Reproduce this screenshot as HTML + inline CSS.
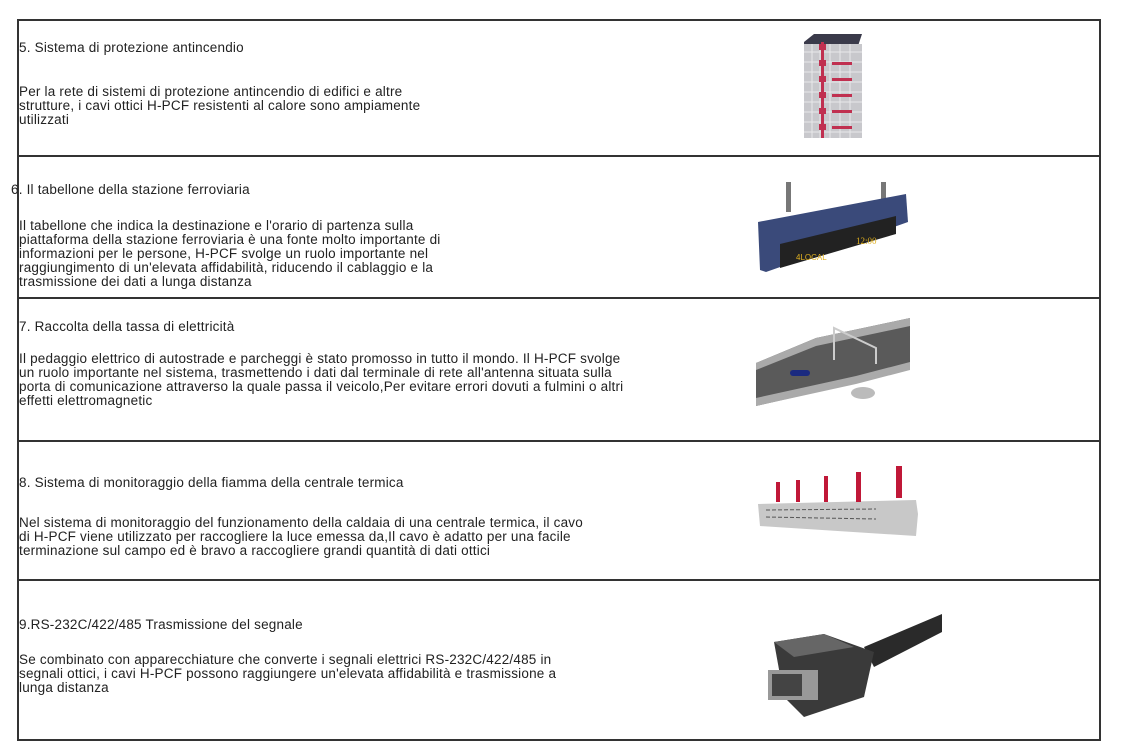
<!DOCTYPE html>
<html><head><meta charset="utf-8"><style>
body{margin:0;background:#fff;width:1124px;height:756px;position:relative;overflow:hidden;font-family:"Liberation Sans","Noto Sans CJK SC",sans-serif;color:#222;}
.h{position:absolute;left:18px;width:1083px;height:2px;background:#333;}
.v{position:absolute;top:19px;width:2px;height:722px;background:#333;}
.t{position:absolute;left:19px;font-size:13.5px;letter-spacing:0.2px;line-height:14px;white-space:nowrap;}
</style></head><body>
<div class="h" style="top:19px"></div>
<div class="h" style="top:155px"></div>
<div class="h" style="top:297px"></div>
<div class="h" style="top:440px"></div>
<div class="h" style="top:579px"></div>
<div class="h" style="top:739px"></div>
<div class="v" style="left:17px"></div>
<div class="v" style="left:1099px"></div>

<div class="t" style="top:41px">5. Sistema di protezione antincendio</div>
<div class="t" style="top:85px">Per la rete di sistemi di protezione antincendio di edifici e altre<br>strutture, i cavi ottici H-PCF resistenti al calore sono ampiamente<br>utilizzati</div>

<div class="t" style="top:183px;left:11px">6. Il tabellone della stazione ferroviaria</div>
<div class="t" style="top:219px">Il tabellone che indica la destinazione e l'orario di partenza sulla<br>piattaforma della stazione ferroviaria è una fonte molto importante di<br>informazioni per le persone, H-PCF svolge un ruolo importante nel<br>raggiungimento di un'elevata affidabilità, riducendo il cablaggio e la<br>trasmissione dei dati a lunga distanza</div>

<div class="t" style="top:320px">7. Raccolta della tassa di elettricità</div>
<div class="t" style="top:352px">Il pedaggio elettrico di autostrade e parcheggi è stato promosso in tutto il mondo. Il H-PCF svolge<br>un ruolo importante nel sistema, trasmettendo i dati dal terminale di rete all'antenna situata sulla<br>porta di comunicazione attraverso la quale passa il veicolo,Per evitare errori dovuti a fulmini o altri<br>effetti elettromagnetic</div>

<div class="t" style="top:476px">8. Sistema di monitoraggio della fiamma della centrale termica</div>
<div class="t" style="top:516px">Nel sistema di monitoraggio del funzionamento della caldaia di una centrale termica, il cavo<br>di H-PCF viene utilizzato per raccogliere la luce emessa da,Il cavo è adatto per una facile<br>terminazione sul campo ed è bravo a raccogliere grandi quantità di dati ottici</div>

<div class="t" style="top:618px">9.RS-232C/422/485 Trasmissione del segnale</div>
<div class="t" style="top:653px">Se combinato con apparecchiature che converte i segnali elettrici RS-232C/422/485 in<br>segnali ottici, i cavi H-PCF possono raggiungere un'elevata affidabilità e trasmissione a<br>lunga distanza</div>

<svg style="position:absolute;left:800px;top:32px" width="66" height="108">
<polygon points="4,10 14,2 62,2 58,14 4,14" fill="#3a3a4a"/>
<rect x="4" y="12" width="58" height="94" fill="#c8c8cc"/>
<g stroke="#e8e8ea" stroke-width="1">
<line x1="4" y1="20" x2="62" y2="20"/><line x1="4" y1="30" x2="62" y2="30"/><line x1="4" y1="40" x2="62" y2="40"/><line x1="4" y1="50" x2="62" y2="50"/><line x1="4" y1="60" x2="62" y2="60"/><line x1="4" y1="70" x2="62" y2="70"/><line x1="4" y1="80" x2="62" y2="80"/><line x1="4" y1="90" x2="62" y2="90"/><line x1="4" y1="100" x2="62" y2="100"/>
<line x1="12" y1="12" x2="12" y2="106"/><line x1="20" y1="12" x2="20" y2="106"/><line x1="30" y1="12" x2="30" y2="106"/><line x1="40" y1="12" x2="40" y2="106"/><line x1="50" y1="12" x2="50" y2="106"/>
</g>
<rect x="21" y="10" width="3" height="96" fill="#c03050"/>
<g fill="#c03050"><rect x="19" y="12" width="7" height="6"/><rect x="19" y="28" width="7" height="6"/><rect x="19" y="44" width="7" height="6"/><rect x="19" y="60" width="7" height="6"/><rect x="19" y="76" width="7" height="6"/><rect x="19" y="92" width="7" height="6"/>
<rect x="32" y="30" width="20" height="3"/><rect x="32" y="46" width="20" height="3"/><rect x="32" y="62" width="20" height="3"/><rect x="32" y="78" width="20" height="3"/><rect x="32" y="94" width="20" height="3"/></g>
</svg>
<svg style="position:absolute;left:756px;top:182px" width="156" height="96">
<rect x="30" y="0" width="5" height="30" fill="#777"/><rect x="125" y="0" width="5" height="22" fill="#777"/>
<polygon points="2,40 150,12 152,40 10,90 4,88" fill="#3a4a7a"/>
<polygon points="24,62 140,34 140,52 24,86" fill="#222"/>
<text x="40" y="78" font-size="8" fill="#e0b020" font-family="Liberation Sans">4LOCAL</text>
<text x="100" y="62" font-size="9" fill="#e0b020" font-family="Liberation Serif">12:00</text>
</svg>
<svg style="position:absolute;left:756px;top:318px" width="156" height="88">
<polygon points="0,45 60,20 154,0 154,50 100,65 0,88" fill="#5a5a5a"/>
<polygon points="0,45 60,20 154,0 154,8 60,28 0,52" fill="#aaa"/>
<polygon points="0,80 100,58 154,44 154,52 100,66 0,88" fill="#aaa"/>
<rect x="34" y="52" width="20" height="6" rx="3" fill="#1a2a80"/>
<ellipse cx="107" cy="75" rx="12" ry="6" fill="#bbb"/>
<path d="M78,42 V10 L120,30 V46" stroke="#ccc" fill="none" stroke-width="2"/>
</svg>
<svg style="position:absolute;left:756px;top:464px" width="168" height="72">
<polygon points="2,40 160,36 162,50 160,72 4,62" fill="#c8c8c8"/>
<g stroke="#555" stroke-width="1" stroke-dasharray="4,2"><line x1="10" y1="46" x2="120" y2="45"/><line x1="10" y1="53" x2="120" y2="55"/></g>
<g fill="#c01838"><rect x="20" y="18" width="4" height="20"/><rect x="40" y="16" width="4" height="22"/><rect x="68" y="12" width="4" height="26"/><rect x="100" y="8" width="5" height="30"/><rect x="140" y="2" width="6" height="32"/></g>
</svg>
<svg style="position:absolute;left:764px;top:612px" width="182" height="108">
<polygon points="100,35 178,2 178,20 110,55" fill="#2a2a2a"/>
<polygon points="10,30 60,22 110,40 100,85 40,105 20,85" fill="#3a3a3a"/>
<polygon points="10,30 60,22 90,35 30,45" fill="#666"/>
<rect x="4" y="58" width="50" height="30" fill="#999"/>
<rect x="8" y="62" width="30" height="22" fill="#444"/>
</svg>
</body></html>
